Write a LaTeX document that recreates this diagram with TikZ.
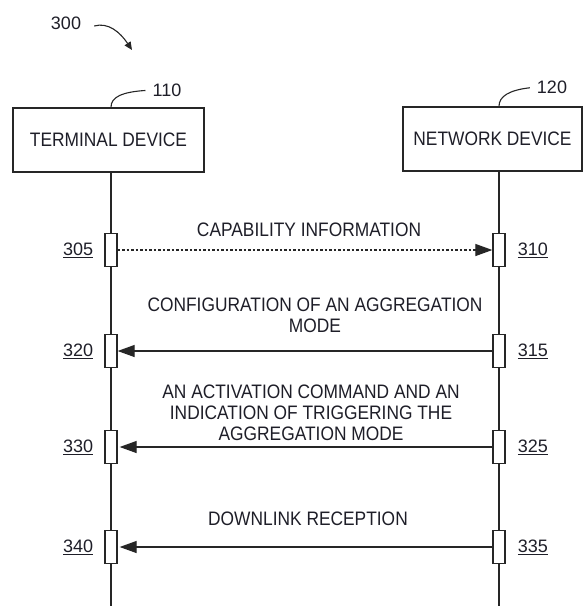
\documentclass[tikz,border=0pt]{standalone}
\usepackage{fontspec}
\setmainfont[FakeStretch=0.89]{Liberation Sans}
\newfontfamily\numfont{Liberation Sans}
\usetikzlibrary{arrows.meta,positioning}
\definecolor{Line}{HTML}{262626}
\definecolor{Ink}{HTML}{1E1E28}

\begin{document}
\begin{tikzpicture}[
 x=1pt,y=-1pt,
 node distance=11pt,
 dev/.style={draw=Line,line width=1.6pt,minimum height=64pt,inner sep=0pt,text=Ink,font=\fontsize{19.5}{21}\selectfont},
 act/.style={draw=Line,line width=1.3pt,fill=white,minimum width=12pt,minimum height=33pt,inner sep=0pt},
 msg/.style={text=Ink,font=\fontsize{19.5}{21}\selectfont,align=center,inner sep=0pt,anchor=north},
 num/.style={text=Ink,font=\numfont\fontsize{18}{18}\selectfont,inner sep=0pt},
 life/.style={draw=Line,line width=1.2pt},
 a/.style={-{Triangle[length=17pt,width=12pt]},line width=1.2pt,draw=Line},
 lead/.style={draw=Line,line width=1.1pt}
]
\useasboundingbox (0,0) rectangle (584,606);
% devices
\node[dev,minimum width=191pt] (term) at (108.5,140) {TERMINAL DEVICE};
\node[dev,minimum width=179pt] (net) at (492.5,139) {NETWORK DEVICE};
\coordinate (tb) at (111,606);
\coordinate (nb) at (499,606);
\draw[life] (term.south -| tb) -- (tb);
\draw[life] (net.south -| nb) -- (nb);
% reference numerals
\node[num] (n300) at (66,23) {300};
\node[num] (n110) at (167,90) {110};
\node[num] (n120) at (552,87) {120};
\coordinate (p300) at (132,50);
\draw[lead,-{Triangle[length=8pt,width=7pt]}] (n300.east) ++(13,3) .. controls (108,22) and (120,32) .. (p300);
\draw[lead,shorten >=7pt] (term.north -| tb) .. controls (111,97) and (122,92) .. (n110.west);
\draw[lead,shorten >=7pt] (net.north -| nb) .. controls (499,96) and (510,90) .. (n120.west);
% activation boxes
\node[act] (a305) at (111,250) {};
\node[act] (a310) at (499,250) {};
\node[act] (a320) at (111,351) {};
\node[act] (a315) at (499,351) {};
\node[act] (a330) at (111,447) {};
\node[act] (a325) at (499,447) {};
\node[act] (a340) at (111,547) {};
\node[act] (a335) at (499,547) {};
\node[num,left=11pt of a305] {\underline{305}};
\node[num,right=12pt of a310] {\underline{310}};
\node[num,left=11pt of a320] {\underline{320}};
\node[num,right=12pt of a315] {\underline{315}};
\node[num,left=11pt of a330] {\underline{330}};
\node[num,right=12pt of a325] {\underline{325}};
\node[num,left=11pt of a340] {\underline{340}};
\node[num,right=12pt of a335] {\underline{335}};
% messages
\node[msg] (m1) at (309,223) {CAPABILITY INFORMATION};
\node[msg] (m2) at (315,298) {CONFIGURATION OF AN AGGREGATION\\MODE};
\node[msg] (m3) at (311,385) {AN ACTIVATION COMMAND AND AN\\INDICATION OF TRIGGERING THE\\AGGREGATION MODE};
\node[msg] (m4) at (308,512) {DOWNLINK RECEPTION};
\draw[a,dash pattern=on 2.5pt off 2pt] (a305.east) -- (a310.west);
\draw[a] (a315.west) -- (a320.east);
\draw[a,shorten >=2pt] (a325.west) -- (a330.east);
\draw[a,shorten >=2pt] (a335.west) -- (a340.east);
\end{tikzpicture}
\end{document}
